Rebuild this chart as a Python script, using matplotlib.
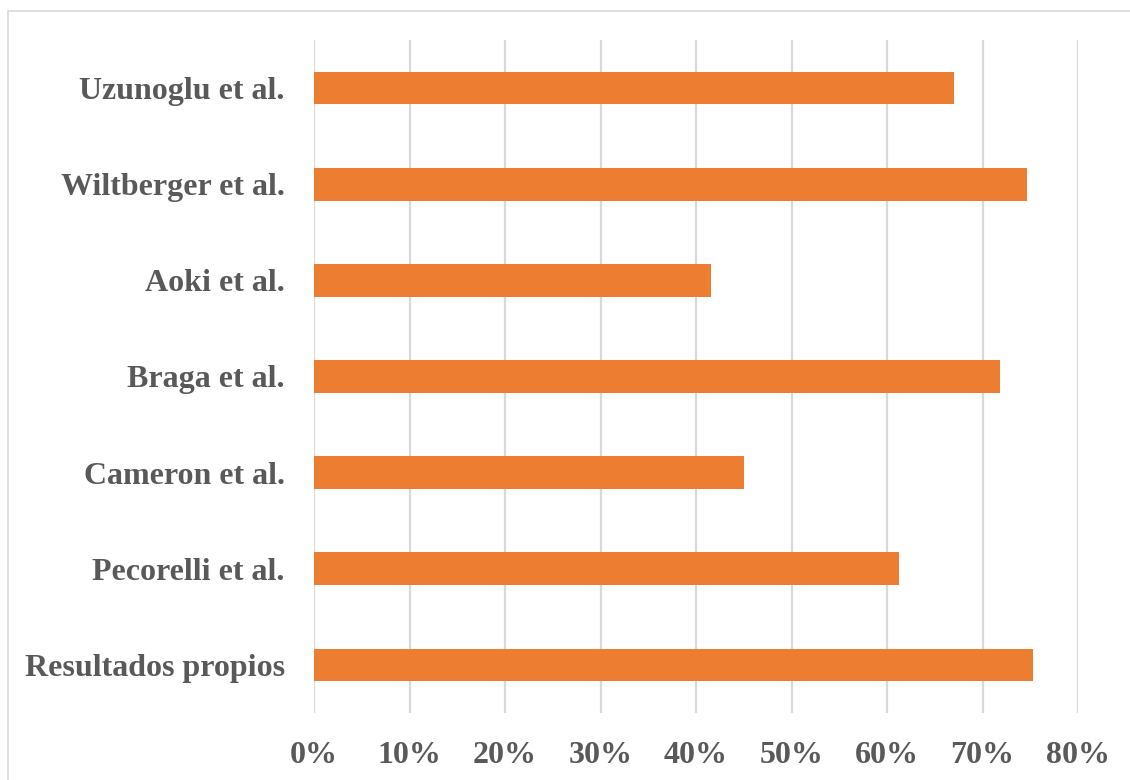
import matplotlib
matplotlib.use("Agg")
import matplotlib.pyplot as plt
from matplotlib.patches import Rectangle
from matplotlib.ticker import FuncFormatter

# Studies (bottom to top) and their reported percentages
studies = ["Resultados propios", "Pecorelli et al.", "Cameron et al.",
           "Braga et al.", "Aoki et al.", "Wiltberger et al.", "Uzunoglu et al."]
values = [75.3, 61.3, 45.0, 71.8, 41.6, 74.7, 67.0]
x_ticks = [0, 10, 20, 30, 40, 50, 60, 70, 80]

bar_color = "#ED7D31"
text_color = "#595959"
grid_color = "#D9D9D9"

fig = plt.figure(figsize=(11.3, 7.8), dpi=100)
ax = fig.add_axes([314 / 1130, 1 - 713 / 780, (1078 - 314) / 1130, (713 - 40) / 780])

# Light outer frame of the chart area
fig.patches.append(Rectangle((7.5 / 1130, -0.1), 1.2, 1.1 - 11.5 / 780,
                             transform=fig.transFigure, fill=False,
                             edgecolor=grid_color, linewidth=1.2, zorder=0))

y = list(range(len(studies)))
ax.barh(y, values, height=0.34, color=bar_color, zorder=3)

ax.set_xlim(0, 80)
ax.set_ylim(-0.5, 6.5)
ax.set_xticks(x_ticks)
ax.xaxis.set_major_formatter(FuncFormatter(lambda v, p: f"{v:.0f}%"))
ax.set_yticks(y)
ax.set_yticklabels(studies)

ax.grid(axis="x", color=grid_color, linewidth=1.6, zorder=0)
ax.set_axisbelow(True)
for s in ax.spines.values():
    s.set_visible(False)
ax.tick_params(axis="both", length=0)
ax.tick_params(axis="x", pad=20)
ax.tick_params(axis="y", pad=21)

for lbl in ax.get_xticklabels():
    lbl.set_fontfamily("Liberation Serif")
    lbl.set_fontweight("bold")
    lbl.set_fontsize(23)
    lbl.set_color(text_color)
for lbl in ax.get_yticklabels():
    lbl.set_fontfamily("Liberation Serif")
    lbl.set_fontweight("bold")
    lbl.set_fontsize(23)
    lbl.set_color(text_color)

fig.savefig("out.png", dpi=100)
